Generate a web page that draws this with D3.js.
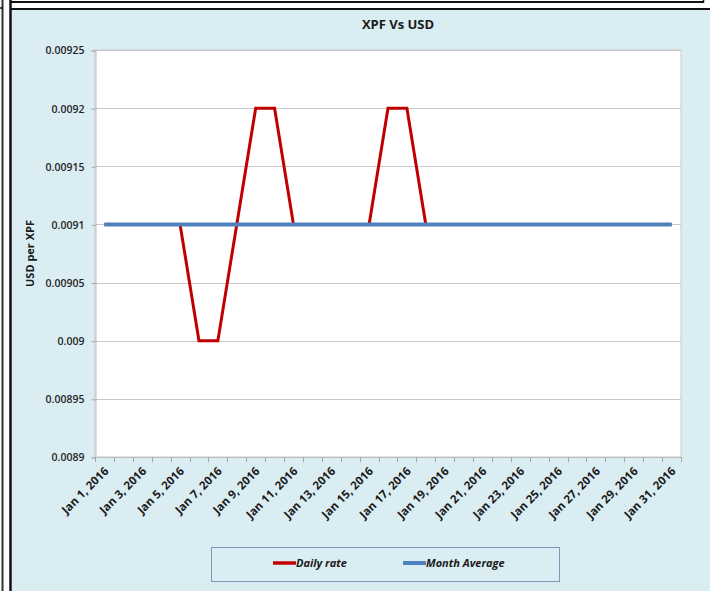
<!DOCTYPE html>
<html><head><meta charset="utf-8">
<script src="https://cdn.jsdelivr.net/npm/d3@7"></script>
<style>
html,body{margin:0;padding:0;background:#fff;}
svg{display:block;}
text{font-family:"Open Sans","Liberation Sans",sans-serif;}
</style></head>
<body>
<svg id="chart" width="710" height="591"></svg>
<script>
const days = d3.range(1, 32).map(d => "Jan " + d + ", 2016");
const dailyRate = [0.0091,0.0091,0.0091,0.0091,0.0091,0.0090,0.0090,0.0091,0.0092,0.0092,
                   0.0091,0.0091,0.0091,0.0091,0.0091,0.0092,0.0092,0.0091,0.0091,0.0091,
                   0.0091,0.0091,0.0091,0.0091,0.0091,0.0091,0.0091,0.0091,0.0091,0.0091,0.0091];
const monthAverage = days.map(() => 0.0091);
const yTicks = [0.0089,0.00895,0.009,0.00905,0.0091,0.00915,0.0092,0.00925];
const yTickLabels = ["0.0089","0.00895","0.009","0.00905","0.0091","0.00915","0.0092","0.00925"];
const xLabelDays = days.filter((d,i) => i % 2 === 0);
const seriesNames = ["Daily rate","Month Average"];
const seriesColors = ["#C00000","#4F81BD"];

const svg = d3.select("#chart");

// outer frame
svg.append("rect").attr("x",11).attr("y",9.5).attr("width",699).attr("height",582).attr("fill","#DAEDF3");
svg.append("line").attr("x1",2.5).attr("x2",2.5).attr("y1",0).attr("y2",591).attr("stroke","#333").attr("stroke-width",2);
svg.append("line").attr("x1",0).attr("x2",3).attr("y1",8).attr("y2",8).attr("stroke","#111").attr("stroke-width",1.5);
svg.append("line").attr("x1",10.5).attr("x2",10.5).attr("y1",0).attr("y2",591).attr("stroke","#111").attr("stroke-width",2.5);
svg.append("line").attr("x1",10).attr("x2",704).attr("y1",2).attr("y2",2).attr("stroke","#111").attr("stroke-width",2);
svg.append("line").attr("x1",703.5).attr("x2",703.5).attr("y1",0).attr("y2",3).attr("stroke","#111").attr("stroke-width",1.5);
svg.append("line").attr("x1",10).attr("x2",710).attr("y1",9).attr("y2",9).attr("stroke","#111").attr("stroke-width",2);

const m = {left:95, right:681, top:50, bottom:457};
const x = d3.scaleBand().domain(days).range([m.left, m.right]).padding(0);
const y = d3.scaleLinear().domain([0.0089, 0.00925]).range([m.bottom, m.top]);

// plot area
svg.append("rect").attr("x",m.left).attr("y",m.top).attr("width",m.right-m.left).attr("height",m.bottom-m.top)
  .attr("fill","#fff").attr("stroke","#C8C8C8").attr("stroke-width",1);

// gridlines
svg.append("g").selectAll("line").data(yTicks).join("line")
  .attr("x1",m.left).attr("x2",m.right)
  .attr("y1",d=>Math.round(y(d))+0.5).attr("y2",d=>Math.round(y(d))+0.5)
  .attr("stroke","#C9C9C9").attr("stroke-width",1);

// y axis
const yAxis = d3.axisLeft(y).tickValues(yTicks).tickSize(4).tickPadding(7)
  .tickFormat((d,i) => yTickLabels[i]);
const gy = svg.append("g").attr("transform",`translate(${m.left+0.5},0.5)`).call(yAxis);
gy.select(".domain").attr("stroke","#BDBDBD");
gy.selectAll(".tick line").attr("stroke","#A6A6A6");
gy.selectAll("text").attr("font-size",10.5).attr("font-weight",600).attr("fill","#262626");

// x axis ticks at band boundaries
const boundaries = days.map(d => x(d)).concat([x.range()[1]]);
svg.append("line").attr("x1",m.left).attr("x2",m.right).attr("y1",m.bottom+0.5).attr("y2",m.bottom+0.5).attr("stroke","#BDBDBD");
svg.append("g").selectAll("line").data(boundaries).join("line")
  .attr("x1",d=>Math.round(d)+0.5).attr("x2",d=>Math.round(d)+0.5)
  .attr("y1",m.bottom).attr("y2",m.bottom+5).attr("stroke","#A6A6A6");

// x labels
svg.append("g").selectAll("text").data(xLabelDays).join("text")
  .attr("transform", d => `translate(${x(d)+x.bandwidth()/2+2},${m.bottom+12}) rotate(-45)`)
  .attr("text-anchor","end").attr("dy","0.35em")
  .attr("font-size",11.5).attr("font-weight","bold").attr("fill","#1a1a1a")
  .text(d => d);

// lines
const line = d3.line().x((d,i) => x(days[i]) + x.bandwidth()/2).y(d => y(d));
svg.append("path").datum(dailyRate).attr("d",line).attr("fill","none")
  .attr("stroke",seriesColors[0]).attr("stroke-width",3).attr("stroke-linejoin","miter");
svg.append("path").datum(monthAverage).attr("d",line).attr("fill","none")
  .attr("stroke",seriesColors[1]).attr("stroke-width",4);

// title
svg.append("text").attr("x",398).attr("y",29).attr("text-anchor","middle")
  .attr("font-size",13).attr("font-weight","bold").attr("fill","#1a1a1a").text("XPF Vs USD");

// y axis title
svg.append("text").attr("transform",`translate(34,${(m.top+m.bottom)/2}) rotate(-90)`)
  .attr("text-anchor","middle").attr("font-size",11).attr("font-weight","bold").attr("fill","#1a1a1a")
  .text("USD per XPF");

// legend
svg.append("rect").attr("x",211.5).attr("y",547.5).attr("width",348).attr("height",34)
  .attr("fill","#DAEDF3").attr("stroke","#7F98B8").attr("stroke-width",1);
const legX = [273, 403];
seriesNames.forEach((n,i) => {
  svg.append("line").attr("x1",legX[i]).attr("x2",legX[i]+23).attr("y1",563).attr("y2",563)
    .attr("stroke",seriesColors[i]).attr("stroke-width", i===0?3.5:4);
  svg.append("text").attr("x",legX[i]+23).attr("y",563).attr("dy","0.35em")
    .attr("font-size",11).attr("font-weight","bold").attr("font-style","italic").attr("fill","#1a1a1a")
    .text(n);
});
</script>
</body></html>
